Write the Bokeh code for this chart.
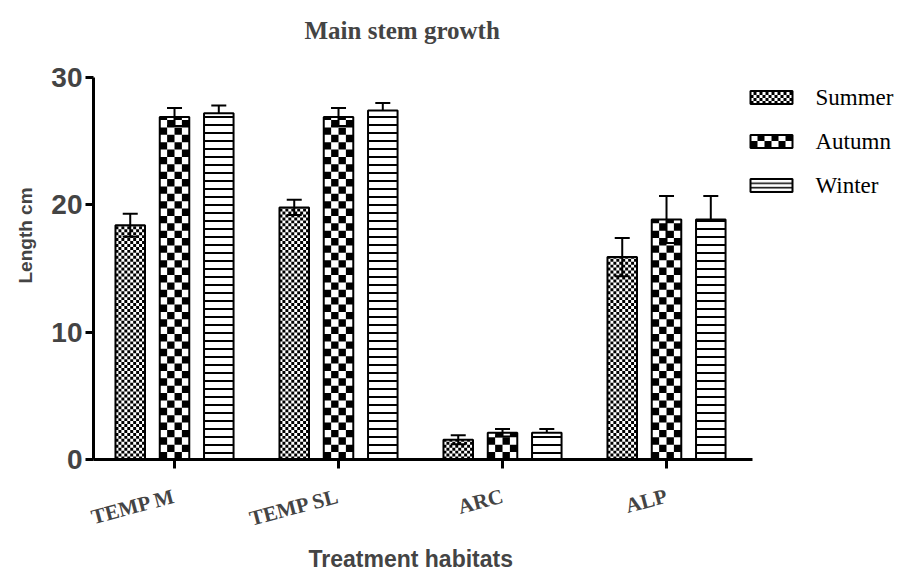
from bokeh.plotting import figure
from bokeh.models import (ColumnDataSource, Range1d, FixedTicker, Whisker, TeeHead, Title)
from bokeh.core.properties import value
from bokeh.embed import file_html
from bokeh.resources import INLINE

# ---- data ----
categories = ["TEMP M", "TEMP SL", "ARC", "ALP"]
summer = [18.4, 19.8, 1.55, 15.9]
summer_err = [0.9, 0.6, 0.35, 1.5]
autumn = [26.9, 26.9, 2.1, 18.85]
autumn_err = [0.7, 0.7, 0.3, 1.85]
winter = [27.2, 27.4, 2.1, 18.85]
winter_err = [0.6, 0.6, 0.3, 1.85]
series_names = ["Summer", "Autumn", "Winter"]
y_ticks = [0, 10, 20, 30]

# ---- layout constants (pixels) ----
W, H = 896, 575
F_LEFT, F_TOP, F_BOTTOM = 93, 77, 459
X0 = 0.506            # x value at the frame's left edge
X_AXIS_END = 4.524    # x value where the drawn x axis stops
PX_X = 164.0          # pixels per x unit
Y_MAX = 30
PX_Y = (F_BOTTOM - F_TOP) / Y_MAX


def px2x(px):
    return X0 + (px - F_LEFT) / PX_X


def px2y(py):
    return (F_BOTTOM - py) / PX_Y


def checker(rects, cell_px):
    """Black cells of a checker pattern filling each rect (data coords)."""
    L, R, B, T = [], [], [], []
    for (x0, x1, y0, y1) in rects:
        nx = max(1, round((x1 - x0) * PX_X / cell_px))
        cx = (x1 - x0) / nx
        cy = cx * PX_X / PX_Y
        j = 0
        y = y0
        while y < y1 - 1e-9:
            top = min(y + cy, y1)
            for i in range(nx):
                if (i + j) % 2 == 0:
                    L.append(x0 + i * cx)
                    R.append(x0 + (i + 1) * cx)
                    B.append(y)
                    T.append(top)
            y += cy
            j += 1
    return dict(left=L, right=R, bottom=B, top=T)


xs = [i + 1 for i in range(len(categories))]
offsets = [-0.27, 0.0, 0.27]
bar_w = 0.18
cell_sizes = [3, 7, None]

frame_w = W - F_LEFT
p = figure(width=W, height=H, output_backend="svg", toolbar_location=None,
           x_range=Range1d(X0, X0 + frame_w / PX_X), y_range=Range1d(0, Y_MAX),
           min_border_left=F_LEFT, min_border_right=0, min_border_top=F_TOP,
           min_border_bottom=H - F_BOTTOM)
p.title = None
p.grid.visible = False
p.outline_line_color = None
p.background_fill_color = "white"
p.border_fill_color = "white"

vals = [summer, autumn, winter]
errs = [summer_err, autumn_err, winter_err]
for k in range(3):
    bx = [x + offsets[k] for x in xs]
    src = ColumnDataSource(dict(
        x=bx,
        top=vals[k],
        upper=[v + e for v, e in zip(vals[k], errs[k])],
        lower=[v - e for v, e in zip(vals[k], errs[k])],
    ))
    if cell_sizes[k] is not None:
        rects = [(x - bar_w / 2, x + bar_w / 2, 0, v) for x, v in zip(bx, vals[k])]
        p.quad(source=ColumnDataSource(checker(rects, cell_sizes[k])),
               left="left", right="right", bottom="bottom", top="top",
               fill_color="black", line_color=None)
        p.vbar(x="x", top="top", bottom=0, width=bar_w, source=src,
               fill_color=None, line_color="black", line_width=2)
    else:
        p.vbar(x="x", top="top", bottom=0, width=bar_w, source=src,
               fill_color="white", line_color="black", line_width=2,
               hatch_pattern="horizontal_line", hatch_scale=8, hatch_weight=2,
               hatch_color="black")
    p.add_layout(Whisker(source=src, base="x", upper="upper", lower="lower",
                         line_color="black", line_width=2,
                         upper_head=TeeHead(size=15, line_width=2, line_color="black"),
                         lower_head=TeeHead(size=15, line_width=2, line_color="black")))

# ---- legend (drawn inside the extended frame, right of the axis) ----
sw_l, sw_r = px2x(750), px2x(792)
centers_px = [97, 141, 185]
sw_h = 13
leg_rects = [(sw_l, sw_r, px2y(c + sw_h / 2), px2y(c - sw_h / 2)) for c in centers_px]
p.quad(source=ColumnDataSource(checker([leg_rects[0]], 3)),
       left="left", right="right", bottom="bottom", top="top",
       fill_color="black", line_color=None)
p.quad(source=ColumnDataSource(checker([leg_rects[1]], 7)),
       left="left", right="right", bottom="bottom", top="top",
       fill_color="black", line_color=None)
p.quad(left=[r[0] for r in leg_rects[:2]], right=[r[1] for r in leg_rects[:2]],
       bottom=[r[2] for r in leg_rects[:2]], top=[r[3] for r in leg_rects[:2]],
       fill_color=None, line_color="black", line_width=2)
p.quad(left=[leg_rects[2][0]], right=[leg_rects[2][1]],
       bottom=[leg_rects[2][2]], top=[leg_rects[2][3]],
       fill_color="white", line_color="black", line_width=2,
       hatch_pattern="horizontal_line", hatch_scale=4.5, hatch_weight=1.5,
       hatch_color="black")
p.text(x=[px2x(815)] * 3, y=[px2y(c) for c in centers_px], text=series_names,
       text_font=value("Liberation Serif"), text_font_size="23px",
       text_baseline="middle", text_align="left", text_color="black")

# ---- axes ----
p.yaxis.ticker = FixedTicker(ticks=y_ticks)
p.yaxis.minor_tick_line_color = None
p.yaxis.major_tick_in = 0
p.yaxis.major_tick_out = 8
p.yaxis.major_tick_line_width = 3
p.yaxis.axis_line_width = 3
p.yaxis.major_label_text_font = "Liberation Sans"
p.yaxis.major_label_text_font_style = "bold"
p.yaxis.major_label_text_font_size = "28px"
p.yaxis.major_label_standoff = 3

p.xaxis.ticker = FixedTicker(ticks=xs)
p.xaxis.bounds = (X0, X_AXIS_END)
p.xaxis.major_label_overrides = {x: c for x, c in zip(xs, categories)}
p.xaxis.minor_tick_line_color = None
p.xaxis.major_tick_in = 0
p.xaxis.major_tick_out = 9
p.xaxis.major_tick_line_width = 3
p.xaxis.axis_line_width = 3
p.xaxis.major_label_orientation = 0.26
p.xaxis.major_label_text_font = "Liberation Serif"
p.xaxis.major_label_text_font_style = "bold"
p.xaxis.major_label_text_font_size = "21px"
p.xaxis.major_label_standoff = 27

# y axis title (left), spacer + title (above), x axis title (below)
p.add_layout(Title(text="Length cm", align="left", offset=176,
                   vertical_align="middle", standoff=24,
                   text_font="Liberation Sans", text_font_style="bold",
                   text_font_size="19px"), "left")
p.add_layout(Title(text=" ", text_font_size="24px", standoff=0), "above")
p.add_layout(Title(text="Main stem growth", align="left", offset=211,
                   text_font="Liberation Serif", text_font_style="bold",
                   text_font_size="25px"), "above")
p.add_layout(Title(text="Treatment habitats", align="left", offset=215,
                   vertical_align="top", standoff=0,
                   text_font="Liberation Sans", text_font_style="bold",
                   text_font_size="23px"), "below")

open("out.html", "w").write(file_html(p, INLINE))
